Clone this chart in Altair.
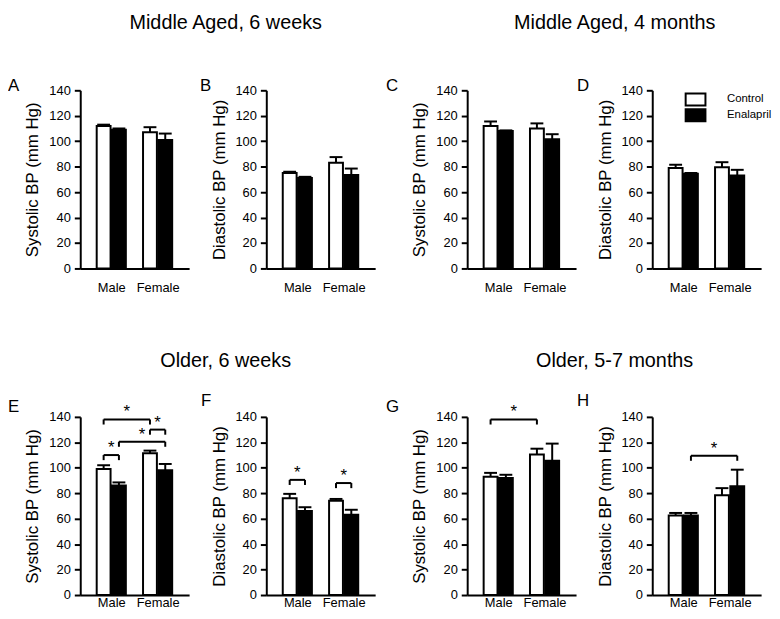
import json
import altair as alt
import pandas as pd

FONT = "Liberation Sans"

sexes = ["Male", "Female"]
treatments = ["Control", "Enalapril"]
bar_sex = ["Male", "Male", "Female", "Female"]
bar_trt = ["Control", "Enalapril", "Control", "Enalapril"]

# mean and top of SEM bar, order: Male-Control, Male-Enalapril, Female-Control, Female-Enalapril
mean_a = [112, 109, 107, 101]
top_a = [113, 110, 111, 106]
mean_b = [75, 71, 83, 73.5]
top_b = [76, 72, 87.5, 78.5]
mean_c = [112, 108, 110, 101.5]
top_c = [115.5, 108.5, 114, 105.5]
mean_d = [79, 74.5, 79.5, 73]
top_d = [81.5, 75, 83.5, 77.5]
mean_e = [99, 86, 111.5, 98]
top_e = [102, 88.5, 113.5, 103]
mean_f = [76, 66, 74, 63]
top_f = [79.5, 69, 75.5, 67]
mean_g = [93, 92, 110.5, 105.5]
top_g = [96, 94.5, 115, 119]
mean_h = [62.5, 62.5, 78.5, 85.5]
top_h = [64.5, 64.5, 84, 98.5]

# significance brackets: (sex1, trt1, sex2, trt2, level)
br_e = [("Male", "Control", "Female", "Control", 138),
        ("Female", "Control", "Female", "Enalapril", 130),
        ("Male", "Enalapril", "Female", "Enalapril", 120.5),
        ("Male", "Control", "Male", "Enalapril", 110)]
br_f = [("Male", "Control", "Male", "Enalapril", 90.5),
        ("Female", "Control", "Female", "Enalapril", 88)]
br_g = [("Male", "Control", "Female", "Control", 138)]
br_h = [("Male", "Enalapril", "Female", "Enalapril", 109.5)]

titles_top = ["Middle Aged, 6 weeks", "Middle Aged, 4 months"]
titles_bottom = ["Older, 6 weeks", "Older, 5-7 months"]
sys_title = "Systolic BP (mm Hg)"
dia_title = "Diastolic BP (mm Hg)"

OFF = 0.165
sex_js = json.dumps(sexes)


def xexpr(s, t):
    return f"indexof({sex_js}, datum.{s}) + (datum.{t} === '{treatments[0]}' ? -{OFF} : {OFF})"


xscale = alt.Scale(domain=[-0.563, 1.573], nice=False, zero=False)
yscale = alt.Scale(domain=[0, 140], nice=False)
fill_scale = alt.Scale(domain=treatments, range=["white", "black"])


def xaxis(pad):
    return alt.Axis(values=[0, 1], labelExpr=f"{sex_js}[datum.value]", ticks=False, grid=False,
                    domainWidth=2, domainColor="black", labelFontSize=13, labelPadding=pad,
                    labelColor="black", labelFont=FONT, labelFlush=False, labelOverlap=False,
                    title=None)


def yaxis(title):
    return alt.Axis(values=[0, 20, 40, 60, 80, 100, 120, 140], tickCount=8, grid=False,
                    tickSize=6, tickWidth=2, tickColor="black", domainWidth=2,
                    domainColor="black", labelFontSize=13, labelPadding=4, labelColor="black",
                    labelFont=FONT, titleFont=FONT, labelOverlap=False, labelSeparation=0,
                    titleFontSize=17, titleFontWeight="normal", titleColor="black",
                    titlePadding=7, title=title)


legend_d = alt.Legend(title=None, orient="none", legendX=38, legendY=3.5, direction="vertical",
                      symbolType="M-4,-2.4H4V2.4H-4Z", symbolSize=25, symbolStrokeColor="black",
                      symbolStrokeWidth=2, symbolOpacity=1, labelFontSize=11.5, labelFont=FONT,
                      labelColor="black", labelOffset=26, rowPadding=-5.5, padding=0)


def panel(letter, means, tops, brackets, ytitle, dx, offset, height, pad, legend=None):
    df = pd.DataFrame({"sex": bar_sex, "trt": bar_trt, "mean": means, "top": tops})
    base = alt.Chart(df).transform_calculate(xpos=xexpr("sex", "trt"))

    def X(f):
        return alt.X(f, scale=xscale, axis=xaxis(pad))

    def Y(f):
        return alt.Y(f, scale=yscale, axis=yaxis(ytitle))

    fill = alt.Fill("trt:N", scale=fill_scale, legend=legend) if legend is not None else \
        alt.Fill("trt:N", scale=fill_scale, legend=None)
    bars = base.mark_bar(size=14, stroke="black", strokeWidth=2, orient="vertical").encode(
        x=X("xpos:Q"), y=Y("mean:Q"), fill=fill)
    err = base.mark_rule(strokeWidth=2, color="black").encode(
        x=X("xpos:Q"), y=Y("mean:Q"), y2="top:Q")
    cap = base.mark_tick(orient="horizontal", size=13, thickness=2, color="black", opacity=1).encode(
        x=X("xpos:Q"), y=Y("top:Q"))
    layers = [bars, err, cap]
    if brackets:
        bdf = pd.DataFrame(brackets, columns=["s1", "t1", "s2", "t2", "level"])
        bb = alt.Chart(bdf).transform_calculate(
            x1=xexpr("s1", "t1"), x2=xexpr("s2", "t2"), low="datum.level - 4",
            xm="(datum.x1 + datum.x2) / 2")
        hor = bb.mark_rule(strokeWidth=2, color="black").encode(
            x=X("x1:Q"), x2="x2:Q", y=Y("level:Q"))
        leg1 = bb.mark_rule(strokeWidth=2, color="black").encode(
            x=X("x1:Q"), y=Y("low:Q"), y2="level:Q")
        leg2 = bb.mark_rule(strokeWidth=2, color="black").encode(
            x=X("x2:Q"), y=Y("low:Q"), y2="level:Q")
        star = bb.mark_text(text="*", fontSize=17, font=FONT, baseline="alphabetic", dy=-2,
                            color="black").encode(x=X("xm:Q"), y=Y("level:Q"))
        layers += [hor, leg1, leg2, star]
    return alt.layer(*layers).properties(
        width=110, height=height,
        title=alt.TitleParams(text=letter, anchor="start", frame="group", dx=dx, offset=offset,
                              fontSize=17, font=FONT, fontWeight="normal", color="black",
                              baseline="alphabetic"))


def header(texts):
    df = pd.DataFrame({"t": texts})
    return alt.Chart(df).mark_text(fontSize=20, font=FONT, color="black", align="center",
                                   baseline="middle").encode(
        x=alt.X("t:N", sort=None, axis=None,
                scale=alt.Scale(type="point", domain=texts, range=[147, 540], padding=0)),
        text="t:N",
    ).properties(width=680, height=24)


H1, H2 = 180, 180
pa = panel("A", mean_a, top_a, [], sys_title, -73, -24, H1, 13)
pb = panel("B", mean_b, top_b, [], dia_title, -67, -24, H1, 13)
pc = panel("C", mean_c, top_c, [], sys_title, -82, -24, H1, 13)
pd_ = panel("D", mean_d, top_d, [], dia_title, -76, -24, H1, 13, legend=legend_d)
pe = panel("E", mean_e, top_e, br_e, sys_title, -73, -25.5, H2, 2)
pf = panel("F", mean_f, top_f, br_f, dia_title, -66, -11.5, H2, 2)
pg = panel("G", mean_g, top_g, br_g, sys_title, -82, -25.5, H2, 2)
ph = panel("H", mean_h, top_h, br_h, dia_title, -76, -11.5, H2, 2)


def ind(c):
    return c.resolve_scale(x="independent", y="independent", fill="independent")


row1 = ind(alt.hconcat(ind(alt.hconcat(pa, pb, spacing=11)),
                       ind(alt.hconcat(pc, pd_, spacing=1)), spacing=11))
row2 = ind(alt.hconcat(ind(alt.hconcat(pe, pf, spacing=12)),
                       ind(alt.hconcat(pg, ph, spacing=1)), spacing=11))

block1 = ind(alt.vconcat(header(titles_top), row1, spacing=43))
block2 = ind(alt.vconcat(header(titles_bottom), row2, spacing=18))

chart = ind(alt.vconcat(block1, block2, spacing=56)).properties(padding=0).configure(
    font=FONT).configure_view(stroke=None)

chart.save("out.html", embed_options={"renderer": "svg", "actions": False})
